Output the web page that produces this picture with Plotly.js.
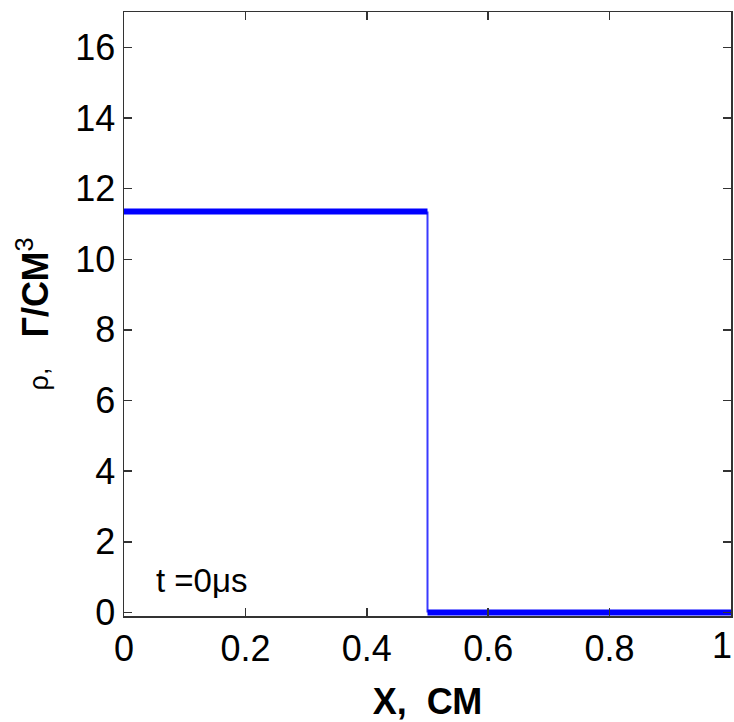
<!DOCTYPE html>
<html>
<head>
<meta charset="utf-8">
<script src="https://cdn.plot.ly/plotly-3.0.1.min.js"></script>
<style>html,body{margin:0;padding:0;background:#fff;}#chart{width:734px;height:722px;}</style>
</head>
<body>
<div id="chart"></div>
<script>
// Density profile at t = 0 (lead slab / vacuum)
const xLeft = [0, 0.5];
const rhoLeft = [11.35, 11.35];
const xJump = [0.5, 0.5];
const rhoJump = [11.35, 0];
const xRight = [0.5, 1];
const rhoRight = [0, 0];
const xTicks = [0, 0.2, 0.4, 0.6, 0.8, 1];
const xTickText = ['0', '0.2', '0.4', '0.6', '0.8', '1'];
const yTicks = [0, 2, 4, 6, 8, 10, 12, 14, 16];
const yTickText = ['0', '2', '4', '6', '8', '10', '12', '14', '16'];

const font = 'Liberation Sans, Arial, sans-serif';
const traces = [
  {x: xJump, y: rhoJump, mode: 'lines', line: {color: '#3a3aff', width: 2}, hoverinfo: 'skip'},
  {x: xLeft, y: rhoLeft, mode: 'lines', line: {color: '#0000ff', width: 6}},
  {x: xRight, y: rhoRight, mode: 'lines', line: {color: '#0000ff', width: 6}}
];
// last x tick label is drawn as an annotation so it stays inside the page edge
const lastIdx = xTickText.length - 1;
const xTickTextAxis = xTickText.map((t, i) => i === lastIdx ? '' : t);
const layout = {
  width: 734, height: 722,
  margin: {l: 124, r: 3, t: 12, b: 106},
  showlegend: false,
  paper_bgcolor: '#fff', plot_bgcolor: '#fff',
  font: {family: font, color: '#000', size: 36},
  xaxis: {
    range: [0, 1], tickvals: xTicks, ticktext: xTickTextAxis,
    ticks: 'inside', ticklen: 8, tickwidth: 1.5, tickcolor: '#333',
    showline: true, linecolor: '#333', linewidth: 1.5, mirror: 'ticks',
    showgrid: false, zeroline: false, ticklabeloverflow: 'allow',
    tickfont: {size: 36, family: font},
    title: {text: '<b>X,  СМ</b>', font: {size: 36, family: font}, standoff: 22}
  },
  yaxis: {
    range: [-0.1, 17], tickvals: yTicks, ticktext: yTickText,
    ticks: 'inside', ticklen: 8, tickwidth: 1.5, tickcolor: '#333',
    showline: true, linecolor: '#333', linewidth: 1.5, mirror: 'ticks',
    showgrid: false, zeroline: false, ticklabeloverflow: 'allow',
    tickfont: {size: 36, family: font},
    title: {text: '<span style="font-size:27px">ρ,</span>   <b>Г/СМ</b><sup>3</sup>', font: {size: 36, family: font}, standoff: 15}
  },
  annotations: [{
    x: 0.05, y: 0.9, xref: 'x', yref: 'y', xanchor: 'left', yanchor: 'middle',
    text: 't =0μs', showarrow: false, font: {size: 33, family: font, color: '#000'}
  }, {
    x: 1, y: 0, xref: 'paper', yref: 'paper', xanchor: 'right', yanchor: 'top',
    yshift: -7, xshift: 3,
    text: xTickText[lastIdx], showarrow: false, font: {size: 36, family: font, color: '#000'}
  }]
};
Plotly.newPlot('chart', traces, layout, {staticPlot: true, displayModeBar: false});
</script>
</body>
</html>
